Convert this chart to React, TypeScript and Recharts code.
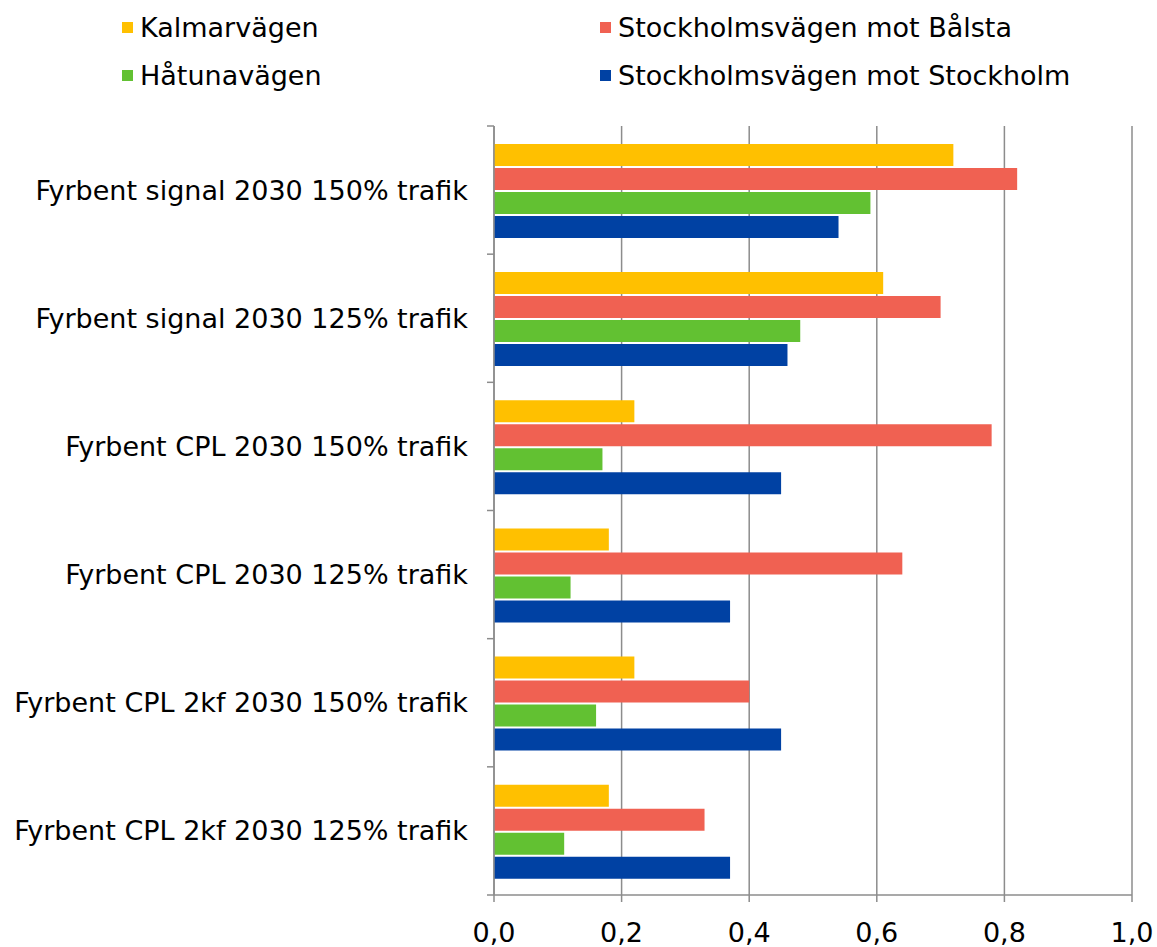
import { BarChart, Bar, XAxis, YAxis, CartesianGrid } from "recharts";

const categories = [
  "Fyrbent signal 2030 150% trafik",
  "Fyrbent signal 2030 125% trafik",
  "Fyrbent CPL 2030 150% trafik",
  "Fyrbent CPL 2030 125% trafik",
  "Fyrbent CPL 2kf 2030 150% trafik",
  "Fyrbent CPL 2kf 2030 125% trafik",
];

const kalmarvagen = [0.72, 0.61, 0.22, 0.18, 0.22, 0.18];
const balsta = [0.82, 0.7, 0.78, 0.64, 0.4, 0.33];
const hatunavagen = [0.59, 0.48, 0.17, 0.12, 0.16, 0.11];
const stockholm = [0.54, 0.46, 0.45, 0.37, 0.45, 0.37];

const xTicks = [0, 0.2, 0.4, 0.6, 0.8, 1.0];

const SERIES = [
  { key: "kalmar", name: "Kalmarvägen", color: "#FFC000", values: kalmarvagen },
  { key: "balsta", name: "Stockholmsvägen mot Bålsta", color: "#F06152", values: balsta },
  { key: "hatuna", name: "Håtunavägen", color: "#62C132", values: hatunavagen },
  { key: "sthlm", name: "Stockholmsvägen mot Stockholm", color: "#0041A3", values: stockholm },
];

const data = categories.map((name, i) => {
  const row: Record<string, string | number> = { name };
  SERIES.forEach((s) => (row[s.key] = s.values[i]));
  return row;
});

const W = 1157;
const H = 947;
const PLOT_TOP = 126;
const PLOT_BOTTOM = 895;
const PLOT_LEFT = 494;
const PLOT_RIGHT = 1132;
const BAND = (PLOT_BOTTOM - PLOT_TOP) / categories.length;
const FONT = "'DejaVu Sans', Verdana, sans-serif";
const FONT_SIZE = 27;
const AXIS = "#8c8c8c";

function CategoryTick(props: any) {
  const { x, y, payload, index } = props;
  return (
    <g>
      <line x1={x - 7} x2={x} y1={y - BAND / 2} y2={y - BAND / 2} stroke={AXIS} strokeWidth={1.5} />
      {index === categories.length - 1 && (
        <line x1={x - 7} x2={x} y1={y + BAND / 2} y2={y + BAND / 2} stroke={AXIS} strokeWidth={1.5} />
      )}
      <text
        x={x - 26}
        y={y}
        textAnchor="end"
        dominantBaseline="central"
        fontSize={FONT_SIZE}
        fontFamily={FONT}
        fill="#000"
      >
        {payload.value}
      </text>
    </g>
  );
}

function ValueTick(props: any) {
  const { x, y, payload } = props;
  return (
    <text
      x={x}
      y={y}
      textAnchor="middle"
      dominantBaseline="central"
      fontSize={FONT_SIZE}
      fontFamily={FONT}
      fill="#000"
    >
      {Number(payload.value).toFixed(1).replace(".", ",")}
    </text>
  );
}

function TopLegend() {
  const cols = [122, 600];
  const rows = [27, 75];
  return (
    <>
      {SERIES.map((s, i) => (
        <div
          key={s.key}
          style={{
            position: "absolute",
            left: cols[i % 2],
            top: rows[Math.floor(i / 2)] - 16,
            height: 32,
            display: "flex",
            alignItems: "center",
            fontFamily: FONT,
            fontSize: FONT_SIZE,
            color: "#000",
            whiteSpace: "nowrap",
          }}
        >
          <span style={{ width: 11, height: 11, background: s.color, marginRight: 7, display: "inline-block" }} />
          {s.name}
        </div>
      ))}
    </>
  );
}

export default function App() {
  return (
    <div style={{ position: "absolute", left: 0, top: 0, width: W, height: H, background: "#fff" }}>
      <BarChart
        width={W}
        height={H}
        data={data}
        layout="vertical"
        margin={{ top: PLOT_TOP, right: W - PLOT_RIGHT, bottom: 0, left: 0 }}
        barCategoryGap="14%"
        barGap={2}
      >
        <CartesianGrid horizontal={false} vertical stroke={AXIS} strokeWidth={1.5} />
        <XAxis
          type="number"
          domain={[0, 1]}
          ticks={xTicks}
          interval={0}
          height={H - PLOT_BOTTOM}
          axisLine={{ stroke: AXIS, strokeWidth: 1.5 }}
          tickLine={{ stroke: AXIS, strokeWidth: 1.5 }}
          tickSize={7}
          tickMargin={30}
          tick={<ValueTick />}
        />
        <YAxis
          type="category"
          dataKey="name"
          width={PLOT_LEFT}
          axisLine={{ stroke: AXIS, strokeWidth: 1.5 }}
          tickLine={false}
          tickSize={0}
          tickMargin={0}
          interval={0}
          tick={<CategoryTick />}
        />
        {SERIES.map((s) => (
          <Bar key={s.key} dataKey={s.key} name={s.name} fill={s.color} isAnimationActive={false} />
        ))}
      </BarChart>
      <TopLegend />
    </div>
  );
}
